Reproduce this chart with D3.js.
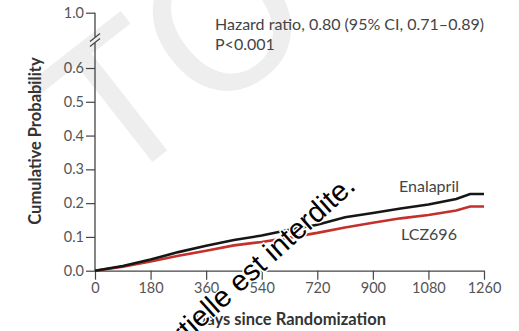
<!DOCTYPE html>
<html>
<head>
<meta charset="utf-8">
<script src="https://cdn.jsdelivr.net/npm/d3@7"></script>
<style>
  body { margin: 0; background: #fff; }
  svg { display: block; font-family: Lato, "Open Sans", sans-serif; }
</style>
</head>
<body>
<div id="chart"></div>
<script>
// cumulative probability curves (days since randomization)
var days      = [0, 90, 180, 270, 360, 450, 540, 630, 720, 810, 900, 990, 1080, 1170, 1215, 1260];
var enalapril = [0, 0.014, 0.033, 0.055, 0.074, 0.091, 0.104, 0.121, 0.136, 0.158, 0.171, 0.184, 0.196, 0.212, 0.227, 0.227];
var lcz696    = [0, 0.012, 0.027, 0.044, 0.059, 0.075, 0.085, 0.098, 0.112, 0.128, 0.142, 0.155, 0.165, 0.178, 0.190, 0.190];

var xTicks = [0, 180, 360, 540, 720, 900, 1080, 1260];
var yTicks = [0, 0.1, 0.2, 0.3, 0.4, 0.5, 0.6, 1.0];

var width = 519, height = 331;
var margin = {top: 12.7, right: 35, bottom: 60.3, left: 95};

var svg = d3.select("#chart")
.append("svg")
  .attr("width", width)
  .attr("height", height);

// big pale watermark letters behind everything
svg.append("text")
  .attr("transform", "translate(114,192) rotate(-38)")
  .attr("fill", "#eeeeee")
  .style("font-family", "'DejaVu Sans', sans-serif")
  .style("font-size", "190px")
  .text("TO");

var g = svg.append("g");

var x = d3.scaleLinear()
  .domain([0, 1260])
  .range([margin.left, width - margin.right]);

// broken axis: 0-0.6 linear, then jump to 1.0
var y = d3.scaleLinear()
  .domain([0, 0.6, 1.0])
  .range([height - margin.bottom, 68, margin.top]);

// X axis
var xAxis = g.append("g")
  .attr("transform", "translate(0," + y(0) + ")")
  .call(d3.axisBottom(x).tickValues(xTicks).tickFormat(d3.format("d"))
    .tickSize(9).tickPadding(3).tickSizeOuter(0));

// Y axis (domain path drawn by hand for the break)
var yAxis = g.append("g")
  .attr("transform", "translate(" + x(0) + ",0)")
  .call(d3.axisLeft(y).tickValues(yTicks).tickFormat(d3.format(".1f")).tickSize(9).tickPadding(2));
yAxis.select(".domain").remove();

var axisCol = "#444";
g.selectAll(".tick line").attr("stroke", axisCol).attr("stroke-width", 1.2);
xAxis.select(".domain").attr("stroke", axisCol).attr("stroke-width", 1.3);
g.selectAll(".tick text")
  .attr("fill", "#555")
  .style("font-size", "14.5px")
  .style("font-family", "Lato, sans-serif");

var brk = 40;
g.append("line")
  .attr("x1", x(0)).attr("x2", x(0))
  .attr("y1", y(0)).attr("y2", brk + 3)
  .attr("stroke", axisCol).attr("stroke-width", 1.3);
g.append("line")
  .attr("x1", x(0)).attr("x2", x(0))
  .attr("y1", brk - 3).attr("y2", y(1))
  .attr("stroke", axisCol).attr("stroke-width", 1.3);
[-2.5, 2.5].forEach(function(o) {
  g.append("line")
    .attr("x1", x(0) - 5).attr("y1", brk + o + 4)
    .attr("x2", x(0) + 5).attr("y2", brk + o - 4)
    .attr("stroke", axisCol).attr("stroke-width", 1.2);
});

// curves
var line = d3.line()
  .x(function(d) { return x(d[0]); })
  .y(function(d) { return y(d[1]); });

g.append("path")
  .datum(days.map(function(d, i) { return [d, lcz696[i]]; }))
  .attr("d", line)
  .attr("fill", "none")
  .attr("stroke", "#c4302b")
  .attr("stroke-width", 2.6);

g.append("path")
  .datum(days.map(function(d, i) { return [d, enalapril[i]]; }))
  .attr("d", line)
  .attr("fill", "none")
  .attr("stroke", "#161616")
  .attr("stroke-width", 2.6);

// labels
g.append("text")
  .attr("x", 215).attr("y", 30)
  .attr("fill", "#444").style("font-size", "16px")
  .text("Hazard ratio, 0.80 (95% CI, 0.71\u20130.89)");
g.append("text")
  .attr("x", 215).attr("y", 50)
  .attr("fill", "#444").style("font-size", "16px")
  .text("P<0.001");

g.append("text")
  .attr("x", 429).attr("y", 192)
  .attr("text-anchor", "middle")
  .attr("fill", "#444").style("font-size", "16px")
  .text("Enalapril");
g.append("text")
  .attr("x", 429).attr("y", 240)
  .attr("text-anchor", "middle")
  .attr("fill", "#444").style("font-size", "16px")
  .text("LCZ696");

// axis titles
g.append("text")
  .attr("transform", "translate(41,141) rotate(-90)")
  .attr("text-anchor", "middle")
  .attr("fill", "#333")
  .style("font-size", "16.5px").style("font-weight", "bold")
  .text("Cumulative Probability");
g.append("text")
  .attr("x", 290).attr("y", 325)
  .attr("text-anchor", "middle")
  .attr("fill", "#333")
  .style("font-size", "16.5px").style("font-weight", "bold")
  .text("Days since Randomization");

// overlay notice
svg.append("text")
  .attr("transform", "translate(357,188) rotate(-42)")
  .attr("text-anchor", "end")
  .attr("fill", "#000")
  .attr("stroke", "#fff").attr("stroke-width", 3)
  .attr("paint-order", "stroke")
  .style("font-family", "'Liberation Sans', Arial, sans-serif")
  .style("font-size", "29px")
  .text("Toute reproduction partielle est interdite.");
</script>
</body>
</html>
